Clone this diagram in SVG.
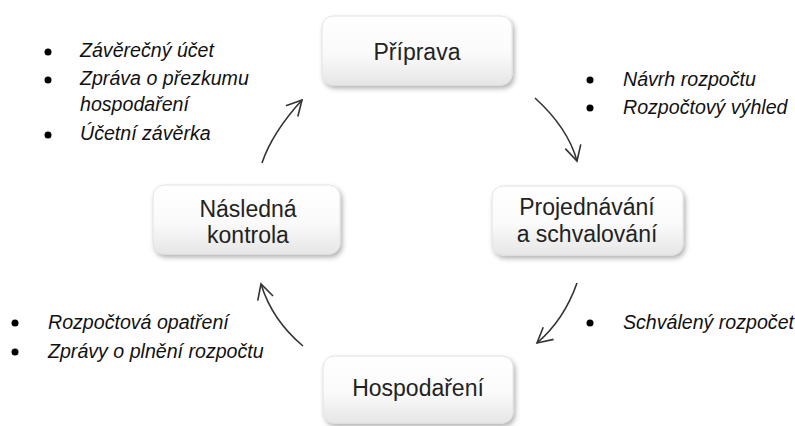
<svg xmlns="http://www.w3.org/2000/svg" width="795" height="426" viewBox="0 0 795 426">
<style>
.box{fill:url(#g);stroke:#e2e2e2;stroke-width:1;filter:url(#sh)}
.nt{font-family:"Liberation Sans",Arial,sans-serif;font-size:23px;fill:#222;text-anchor:middle}
.bt{font-family:"Liberation Sans",Arial,sans-serif;font-size:19.6px;font-style:italic;fill:#111}
.dot{fill:#000}
.arr{fill:none;stroke:#333;stroke-width:1.6;marker-end:url(#ah)}
</style>
<defs>
<linearGradient id="g" x1="0" y1="0" x2="0" y2="1">
<stop offset="0" stop-color="#ffffff"/>
<stop offset="0.55" stop-color="#fafafa"/>
<stop offset="1" stop-color="#e6e6e6"/>
</linearGradient>
<filter id="sh" x="-10%" y="-15%" width="125%" height="140%">
<feDropShadow dx="2" dy="3" stdDeviation="2.5" flood-color="#000" flood-opacity="0.3"/>
</filter>
<marker id="ah" markerUnits="userSpaceOnUse" viewBox="-18 -10 20 20" markerWidth="20" markerHeight="20" refX="0" refY="0" orient="auto">
<path d="M-15,-8 L0,0 L-15,8" fill="none" stroke="#333" stroke-width="1.6" stroke-linejoin="miter"/>
</marker>
</defs>
<rect width="795" height="426" fill="#fff"/>
<g id="connectors">
<path class="arr" d="M535,98 Q568,128 577,161"/>
<path class="arr" d="M577,283 Q564,320 537,343"/>
<path class="arr" d="M303,346 Q272,320 261,284"/>
<path class="arr" d="M262,163 Q272,133 302,100"/>
</g>
<g id="node-priprava">
<rect class="box" x="322" y="16" width="190" height="69" rx="11"/>
<text class="nt" x="417" y="60">Příprava</text>
</g>
<g id="node-projednavani">
<rect class="box" x="492" y="186" width="191" height="69" rx="11"/>
<text class="nt" x="587" y="215">Projednávání</text>
<text class="nt" x="587" y="242">a schvalování</text>
</g>
<g id="node-hospodareni">
<rect class="box" x="323" y="356" width="190" height="67" rx="11"/>
<text class="nt" x="418" y="396">Hospodaření</text>
</g>
<g id="node-kontrola">
<rect class="box" x="153" y="185" width="187" height="69" rx="11"/>
<text class="nt" x="248" y="217">Následná</text>
<text class="nt" x="248" y="243">kontrola</text>
</g>
<g id="list-topleft">
<circle class="dot" cx="48" cy="52" r="3.5"/>
<text class="bt" x="80" y="57">Závěrečný účet</text>
<circle class="dot" cx="48" cy="80" r="3.5"/>
<text class="bt" x="80" y="85">Zpráva o přezkumu</text>
<text class="bt" x="80" y="111">hospodaření</text>
<circle class="dot" cx="48" cy="135" r="3.5"/>
<text class="bt" x="80" y="140">Účetní závěrka</text>
</g>
<g id="list-topright">
<circle class="dot" cx="590" cy="80" r="3.5"/>
<text class="bt" x="623" y="86">Návrh rozpočtu</text>
<circle class="dot" cx="590" cy="108" r="3.5"/>
<text class="bt" x="623" y="114">Rozpočtový výhled</text>
</g>
<g id="list-right">
<circle class="dot" cx="590" cy="323" r="3.5"/>
<text class="bt" x="623" y="329">Schválený rozpočet</text>
</g>
<g id="list-bottomleft">
<circle class="dot" cx="15" cy="323" r="3.5"/>
<text class="bt" x="48" y="329">Rozpočtová opatření</text>
<circle class="dot" cx="15" cy="352" r="3.5"/>
<text class="bt" x="48" y="358">Zprávy o plnění rozpočtu</text>
</g>
</svg>
